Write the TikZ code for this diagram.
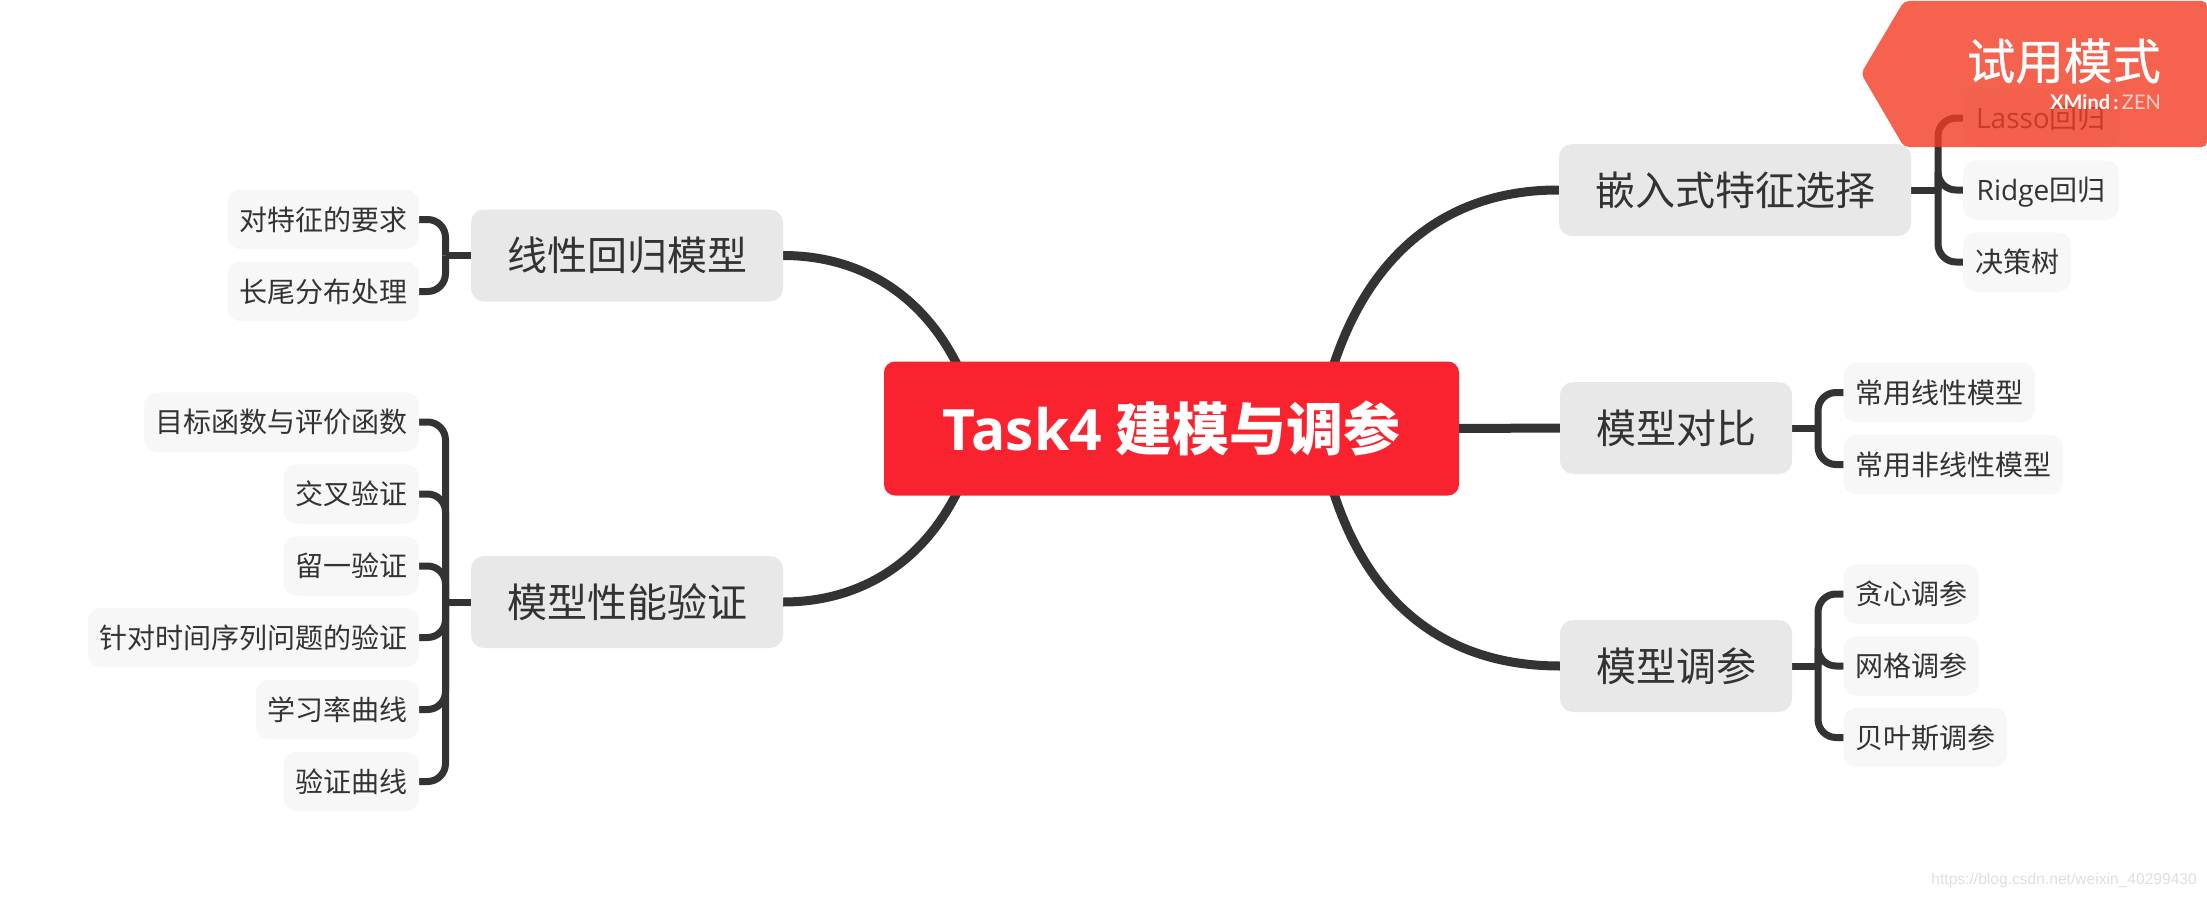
\documentclass[tikz,border=0pt]{standalone}
\usepackage{fontspec}
\setmainfont{Noto Sans CJK SC}
\newfontfamily\lat{Open Sans}
\newfontfamily\brandfont{Lato}
\newfontfamily\markfont{Liberation Sans}
\usetikzlibrary{backgrounds}
\definecolor{ink}{HTML}{333333}
\definecolor{rootred}{HTML}{F9232F}
\definecolor{branchgrey}{HTML}{E8E8E8}
\definecolor{leafgrey}{HTML}{F7F7F7}
\definecolor{banner}{HTML}{F23C23}
\tikzset{
  box/.style={inner sep=0pt,outer sep=0pt,anchor=center,text=ink},
  root/.style={box,fill=rootred,text=white,rounded corners=11pt,minimum width=575pt,minimum height=134pt,text height=50pt,text depth=6.8pt,font=\fontsize{57}{62}\selectfont\bfseries},
  branch/.style={box,fill=branchgrey,rounded corners=13pt,minimum height=92pt,text height=35.3pt,text depth=4.8pt,font=\fontsize{40}{46}\selectfont},
  leaf/.style={box,fill=leafgrey,rounded corners=13pt,minimum height=59.5pt,text height=24.7pt,text depth=3.4pt,font=\fontsize{28}{32}\selectfont},
  mainline/.style={draw=ink,line width=9pt},
  subline/.style={draw=ink,line width=7pt,rounded corners=18pt},
  stubline/.style={draw=ink,line width=7pt},
}
\begin{document}
\begin{tikzpicture}[x=1pt,y=-1pt]
\useasboundingbox (0,0) rectangle (2207,899);
% root
\node[root] (root) at (1171.5,428.5) {{\lat\bfseries Task4} 建模与调参};
% branches
\node[branch,minimum width=312pt] (lin) at (627,255.5) {线性回归模型};
\node[branch,minimum width=312pt] (val) at (627,602) {模型性能验证};
\node[branch,minimum width=352pt] (emb) at (1735,190) {嵌入式特征选择};
\node[branch,minimum width=232pt] (cmp) at (1676,428) {模型对比};
\node[branch,minimum width=232pt] (tun) at (1676,666) {模型调参};
% left leaves
\node[leaf,minimum width=191.5pt] (l1) at (323.25,219.5) {对特征的要求};
\node[leaf,minimum width=191.5pt] (l2) at (323.25,291.5) {长尾分布处理};
\node[leaf,minimum width=275pt] (v1) at (281.5,422) {目标函数与评价函数};
\node[leaf,minimum width=135.5pt] (v2) at (351.25,494) {交叉验证};
\node[leaf,minimum width=135.5pt] (v3) at (351.25,566) {留一验证};
\node[leaf,minimum width=331pt] (v4) at (253.5,637.5) {针对时间序列问题的验证};
\node[leaf,minimum width=163pt] (v5) at (337.5,709.5) {学习率曲线};
\node[leaf,minimum width=135.5pt] (v6) at (351.25,781.5) {验证曲线};
% right leaves
\node[leaf,minimum width=156pt] (e1) at (2041,118) {{\lat Lasso}回归};
\node[leaf,minimum width=156pt] (e2) at (2041,190) {{\lat Ridge}回归};
\node[leaf,minimum width=108pt] (e3) at (2017,262) {决策树};
\node[leaf,minimum width=191.5pt] (c1) at (1939.25,392.5) {常用线性模型};
\node[leaf,minimum width=219.5pt] (c2) at (1953.25,464.5) {常用非线性模型};
\node[leaf,minimum width=135.5pt] (t1) at (1911.25,594) {贪心调参};
\node[leaf,minimum width=135.5pt] (t2) at (1911.25,666) {网格调参};
\node[leaf,minimum width=163.5pt] (t3) at (1925.25,737.5) {贝叶斯调参};
% hidden curve origins and bracket spines
\coordinate (rTR) at (1325,395);
\coordinate (rBR) at (1325,462);
\coordinate (rTL) at (970,395);
\coordinate (rBL) at (970,462);
\coordinate (spLin) at (445.5,255.5);
\coordinate (spVal) at (445.5,602);
\coordinate (spEmb) at (1938,190);
\coordinate (spCmp) at (1818,428);
\coordinate (spTun) at (1818,666);
\begin{scope}[on background layer]
\draw[mainline] (rTR) .. controls (1358,262) and (1440,189.5) .. (emb.west);
\draw[mainline] (rBR) .. controls (1358,598) and (1440,666) .. (tun.west);
\draw[mainline] (root.east) -- (cmp.west);
\draw[mainline] (rTL) .. controls (938,305) and (870,255.5) .. (lin.east);
\draw[mainline] (rBL) .. controls (938,552) and (870,602) .. (val.east);
\foreach \a in {l1,l2} \draw[subline] (\a.east) -| (spLin);
\draw[stubline] (spLin) -- (lin.west);
\foreach \a in {v1,v2,v3,v4,v5,v6} \draw[subline] (\a.east) -| (spVal);
\draw[stubline] (spVal) -- (val.west);
\foreach \a in {e1,e2,e3} \draw[subline] (\a.west) -| (spEmb);
\draw[stubline] (spEmb) -- (emb.east);
\foreach \a in {c1,c2} \draw[subline] (\a.west) -| (spCmp);
\draw[stubline] (spCmp) -- (cmp.east);
\foreach \a in {t1,t2,t3} \draw[subline] (\a.west) -| (spTun);
\draw[stubline] (spTun) -- (tun.east);
\end{scope}
% trial banner
\fill[banner,opacity=.8,rounded corners=5pt] (2207,1) -- (1904,1) -- (1861,73.5) -- (1904,147) -- (2207,147) -- cycle;
\node[inner sep=0pt,anchor=east,text=white,text height=42.5pt,text depth=5.8pt,font=\fontsize{48.5}{52}\selectfont\addfontfeature{FakeBold=0.6}] (trial) at (2161,61) {试用模式};
\node[inner sep=0pt,anchor=east,text=white,font=\fontsize{20}{22}\selectfont\brandfont] (brand) at (2161,102) {\bfseries XMind\,:\,\mdseries\textcolor{white!75!banner}{ZEN}};
% watermark
\node[inner sep=0pt,anchor=east,text=black!13,font=\fontsize{15.6}{18}\selectfont\markfont] (mark) at (2197,880) {https://blog.csdn.net/weixin\_40299430};
\end{tikzpicture}
\end{document}
